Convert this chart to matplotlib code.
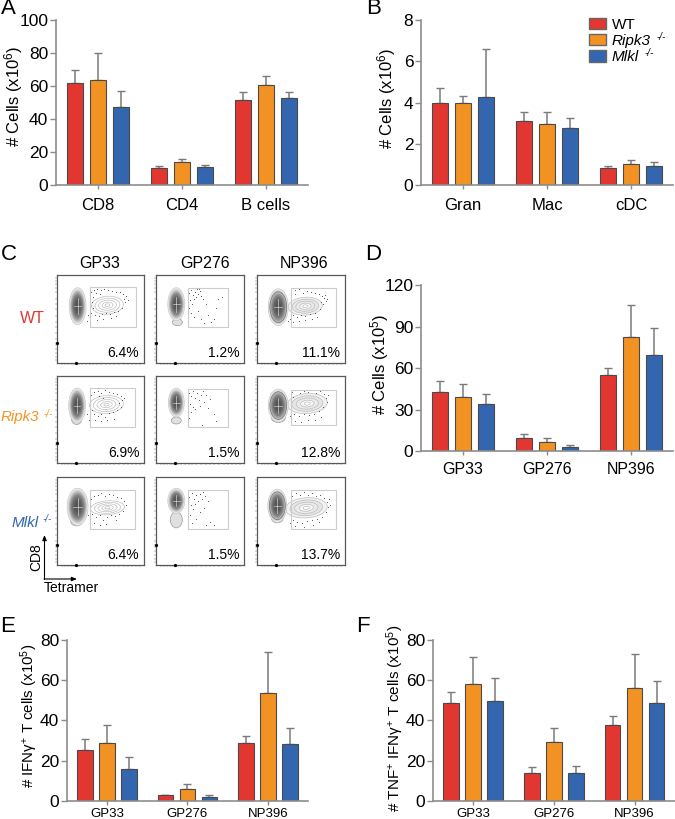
import matplotlib
matplotlib.use("Agg")
import matplotlib.pyplot as plt
from matplotlib.patches import Ellipse, Rectangle, Patch

plt.rcParams['font.family'] = ['Liberation Sans', 'DejaVu Sans']
plt.rcParams['mathtext.fontset'] = 'custom'
plt.rcParams['mathtext.rm'] = 'Liberation Sans'
plt.rcParams['mathtext.it'] = 'Liberation Sans:italic'
plt.rcParams['mathtext.bf'] = 'Liberation Sans:bold'

W, H = 675, 819

genotypes = ["WT", "Ripk3", "Mlkl"]
colors = ["#E23630", "#F29222", "#3366AE"]

# bar panels: one list per genotype, means and top of the error bar
a_groups = ["CD8", "CD4", "B cells"]
a_means = [[61.9, 10.5, 51.8], [63.9, 13.9, 60.5], [47.4, 11.3, 52.8]]
a_tops = [[69.6, 11.9, 56.3], [80.2, 16.1, 66.1], [56.9, 12.1, 56.5]]

b_groups = ["Gran", "Mac", "cDC"]
b_means = [[4.0, 3.09, 0.84], [3.96, 2.99, 1.03], [4.25, 2.76, 0.95]]
b_tops = [[4.73, 3.54, 0.92], [4.33, 3.57, 1.23], [6.62, 3.28, 1.11]]

peptides = ["GP33", "GP276", "NP396"]
d_means = [[43, 9.9, 55], [39, 6.5, 82.4], [34.2, 3.4, 69.4]]
d_tops = [[51, 12.3, 60.5], [48.9, 9.4, 105.5], [41.2, 4.8, 88.9]]

e_means = [[25, 2.7, 28.9], [28.5, 5.6, 53.4], [15.9, 1.8, 28]]
e_tops = [[30.9, 3, 32], [37.7, 8.1, 73.9], [22, 2.6, 36.3]]

f_means = [[48.5, 13.9, 37.7], [58.1, 29.2, 56.3], [49.5, 13.9, 48.5]]
f_tops = [[54.1, 16.6, 42], [71.4, 36, 73], [60.9, 17.1, 59.8]]

# flow plots, in the 88 x 88 units of a box, y going down. rows WT, Ripk3, Mlkl
flow_pct = [["6.4%", "1.2%", "11.1%"], ["6.9%", "1.5%", "12.8%"], ["6.4%", "1.5%", "13.7%"]]
flow_gate = [[(33, 12, 80, 52), (32, 13, 72, 52), (34, 13, 79, 52)],
             [(33, 12, 79, 52), (32, 13, 72, 52), (34, 14, 79, 50)],
             [(33, 13, 79, 52), (32, 13, 72, 52), (34, 13, 79, 52)]]
flow_main = [[(21, 31, 8.5, 18.5), (20, 29, 8.5, 16.5), (21, 32, 10, 18.5)],
             [(20.5, 30, 8.5, 17.5), (20, 27, 8, 14.5), (21, 30, 10, 16.5)],
             [(21, 30, 10.5, 18.5), (20, 24, 8.5, 12.5), (20, 29, 9.5, 16.5)]]
flow_tail = [[None, (21, 47, 5, 3.5), None],
             [(20, 44, 5, 5), (20, 45, 5, 3.5), (21, 42, 7, 5)],
             [(20, 44, 6, 5), (20, 43, 6, 8), (20, 41, 6, 5)]]
flow_tet = [[(51, 30, 16, 9), None, (48, 31, 17, 9)],
            [(50, 29, 17, 9), None, (50, 28, 20, 10)],
            [(51, 31, 17, 7), None, (49, 31, 21, 10)]]
flow_dots = [
    [[(34, 17), (37, 15), (40, 14), (44, 15), (48, 14), (52, 15), (56, 16), (60, 17), (64, 17), (67, 19), (70, 21),
      (68, 24), (36, 22), (35, 27), (36, 33), (34, 38), (38, 40), (42, 41), (46, 39), (50, 38), (54, 39), (58, 37),
      (62, 36), (66, 33), (69, 27), (31, 40), (30, 46), (33, 48), (40, 45), (47, 44), (55, 43), (60, 41), (72, 25),
      (39, 18), (43, 19)],
     [(33, 18), (35, 15), (37, 20), (39, 17), (41, 14), (42, 19), (44, 16), (45, 21), (46, 13), (47, 24), (38, 24),
      (34, 25), (36, 29), (33, 33), (35, 38), (38, 42), (42, 36), (45, 44), (50, 29), (52, 40), (55, 47), (60, 33),
      (62, 24), (48, 48), (58, 44), (66, 22), (40, 22), (43, 14)],
     [(34, 17), (38, 15), (42, 14), (46, 18), (50, 16), (54, 17), (58, 18), (62, 19), (65, 21), (67, 23), (69, 26),
      (66, 29), (63, 34), (58, 38), (53, 39), (48, 41), (44, 40), (40, 42), (36, 40), (33, 44), (36, 47), (42, 46),
      (48, 45), (55, 44), (60, 42), (70, 24), (68, 20), (64, 27), (31, 46), (38, 19)]],
    [[(34, 19), (37, 16), (41, 15), (45, 17), (49, 14), (53, 16), (57, 17), (61, 18), (65, 20), (66, 24), (63, 27),
      (35, 34), (37, 38), (41, 40), (45, 38), (49, 41), (53, 37), (57, 36), (61, 34), (65, 31), (32, 44), (38, 45),
      (44, 46), (51, 44), (58, 43), (30, 38), (68, 22), (42, 20), (47, 22)],
     [(33, 17), (35, 20), (37, 15), (39, 22), (41, 17), (43, 24), (45, 19), (47, 15), (48, 26), (50, 19), (34, 28),
      (37, 31), (35, 36), (39, 33), (33, 42), (44, 30), (52, 32), (58, 38), (60, 46), (46, 50), (54, 23)],
     [(35, 16), (39, 14), (43, 17), (47, 15), (51, 16), (55, 14), (59, 17), (63, 15), (67, 18), (69, 22), (70, 26),
      (66, 31), (62, 35), (57, 38), (52, 39), (47, 38), (42, 40), (37, 38), (34, 43), (38, 46), (44, 47), (51, 45),
      (58, 44), (64, 41), (71, 19), (33, 40), (36, 21)]],
    [[(34, 22), (37, 19), (41, 18), (45, 16), (49, 19), (53, 17), (57, 18), (61, 20), (65, 21), (68, 24), (70, 28),
      (35, 37), (39, 40), (43, 38), (47, 43), (51, 40), (55, 38), (59, 39), (63, 37), (67, 34), (37, 46), (43, 48),
      (50, 47), (31, 38), (60, 43)],
     [(33, 20), (36, 16), (38, 22), (40, 18), (42, 24), (44, 17), (46, 22), (47, 15), (49, 19), (35, 28), (37, 32),
      (39, 27), (34, 38), (40, 42), (36, 46), (44, 35), (50, 48), (54, 45), (58, 48), (48, 31), (52, 24)],
     [(35, 19), (39, 16), (43, 18), (47, 15), (51, 18), (55, 16), (59, 19), (63, 18), (67, 21), (70, 25), (71, 30),
      (69, 35), (65, 40), (60, 42), (55, 43), (50, 44), (45, 46), (40, 45), (36, 43), (33, 46), (38, 49), (47, 50),
      (56, 48), (73, 28), (72, 22), (62, 45)]],
]

flow_x_ticks = [5, 8, 11, 14, 16, 18, 20, 22, 25, 29, 33, 36, 40, 45, 50, 54, 58, 63, 68, 72, 76, 80, 84]
flow_y_ticks = [3, 6, 9, 13, 17, 24, 29, 34, 41, 47, 52, 58, 64, 68, 70, 74, 78, 82, 85]

col_edges = [(56.7, 144.3), (156.3, 244.3), (257.3, 345.3)]
row_edges = [(275.3, 363), (375.7, 463.3), (476.7, 565)]

main_fracs = [1, 0.92, 0.84, 0.74, 0.64, 0.52, 0.4, 0.28]
main_grays = ["0.93", "0.84", "0.72", "0.6", "0.5", "0.42", "0.37", "0.33"]
tet_fracs = [1, 0.78, 0.56, 0.34, 0.15]

fig = plt.figure(figsize=(W / 100, H / 100), dpi=100)


def px_axes(left, top, right, bottom):
    return fig.add_axes([left / W, 1 - bottom / H, (right - left) / W, (bottom - top) / H])


def px_text(x, y, s, **kw):
    kw.setdefault("ha", "center")
    kw.setdefault("va", "center")
    return fig.text(x / W, 1 - y / H, s, **kw)


def bar_panel(box, groups, means, tops, ymax, yticks, ylabel, label_xy, xsize=12, xpad=6, lsize=12):
    left, top, right, bottom = box
    ax = px_axes(left, top, right, bottom)
    unit = (right - left) / 3
    step = (22 if unit < 82 else 23) / unit
    width = 15.5 / unit
    for g in range(3):
        xs = [i + (g - 1) * step for i in range(3)]
        ups = [t - m for t, m in zip(tops[g], means[g])]
        ax.errorbar(xs, means[g], yerr=[[0, 0, 0], ups], fmt="none", ecolor="#7a7a7a",
                    elinewidth=1.1, capsize=3, capthick=1.0, zorder=1)
        ax.bar(xs, means[g], width=width, color=colors[g], edgecolor="#4a4a4a", linewidth=0.8, zorder=2)
    ax.set_xlim(-0.5, 2.5)
    ax.set_ylim(0, ymax)
    ax.set_xticks(range(3))
    ax.set_xticklabels(groups)
    ax.set_yticks(yticks)
    for s in ["top", "right"]:
        ax.spines[s].set_visible(False)
    for s in ["left", "bottom"]:
        ax.spines[s].set_color("#8c8c8c")
        ax.spines[s].set_linewidth(1.2)
    ax.tick_params(axis="y", length=4, width=1, color="#8c8c8c", labelsize=12.5, pad=1.5)
    ax.tick_params(axis="x", length=3, width=1, color="#8c8c8c", labelsize=xsize, pad=xpad)
    px_text(label_xy[0], label_xy[1], ylabel, rotation=90, fontsize=lsize)
    return ax


def flow_panel(r, c):
    ax = px_axes(col_edges[c][0], row_edges[r][0], col_edges[c][1], row_edges[r][1])
    ax.set_xlim(0, 88)
    ax.set_ylim(88, 0)
    x0, y0, x1, y1 = flow_gate[r][c]

    tet = flow_tet[r][c]
    if tet:
        for k, f in enumerate(tet_fracs):
            fill = "white"
            if c == 2:
                fill = ["0.95", "0.9", "0.92", "0.97", "white"][k]
            ax.add_patch(Ellipse((tet[0], tet[1]), 2 * tet[2] * f, 2 * tet[3] * f, angle=-4,
                                 facecolor=fill, edgecolor="0.72", linewidth=0.45, zorder=2))

    tail = flow_tail[r][c]
    if tail:
        ax.add_patch(Ellipse(tail[:2], 2 * tail[2], 2 * tail[3], facecolor="0.88", edgecolor="0.6",
                             linewidth=0.5, zorder=3))

    m = flow_main[r][c]
    for k, (f, g) in enumerate(zip(main_fracs, main_grays)):
        edge = "0.78" if k == 0 else "none"
        if c == 2 and k == 2:
            edge = "0.45"
        ax.add_patch(Ellipse(m[:2], 2 * m[2] * f, 2 * m[3] * f, facecolor=g, edgecolor=edge,
                             linewidth=0.5, zorder=4))
    ax.plot([m[0] - m[2] * 0.4, m[0] + m[2] * 0.4], [m[1], m[1]], color="white", lw=0.5, alpha=0.7, zorder=5)
    ax.plot([m[0], m[0]], [m[1] - m[3] * 0.45, m[1] + m[3] * 0.45], color="white", lw=0.5, alpha=0.7, zorder=5)

    dots = flow_dots[r][c]
    ax.scatter([d[0] for d in dots], [d[1] for d in dots], s=0.45, color="0.3", linewidths=0, zorder=3)
    ax.add_patch(Rectangle((x0, y0), x1 - x0, y1 - y0, fill=False, edgecolor="0.8", linewidth=0.8, zorder=6))

    ax.set_xticks(flow_x_ticks)
    ax.set_yticks(flow_y_ticks)
    ax.set_xticklabels([])
    ax.set_yticklabels([])
    ax.tick_params(length=1.5, width=0.35, color="0.45", pad=0)
    ax.plot([19], [88], marker="o", ms=1.3, color="black", clip_on=False, zorder=7)
    ax.plot([0], [68], marker="o", ms=1.3, color="black", clip_on=False, zorder=7)
    for s in ax.spines.values():
        s.set_color("0.35")
        s.set_linewidth(0.9)
    ax.text(83, 78, flow_pct[r][c], ha="right", va="center", fontsize=10, zorder=8)


bar_panel((56, 20, 308, 185.3), a_groups, a_means, a_tops, 100, [0, 20, 40, 60, 80, 100],
          r"# Cells (x10$^{6}$)", (14, 96))
bar_panel((421, 20, 673, 185.3), b_groups, b_means, b_tops, 8, [0, 2, 4, 6, 8],
          r"# Cells (x10$^{6}$)", (387, 98))
bar_panel((421, 285.3, 673, 451.3), peptides, d_means, d_tops, 120, [0, 30, 60, 90, 120],
          r"# Cells (x10$^{5}$)", (380, 364), xsize=11.5, xpad=4.5)
bar_panel((66.7, 640, 308, 800.7), peptides, e_means, e_tops, 80, [0, 20, 40, 60, 80],
          r"# IFN$\mathrm{\gamma}^{+}$ T cells (x10$^{5}$)", (29, 716), xsize=9.5, xpad=2.5, lsize=10.8)
bar_panel((432.7, 640, 675, 800.7), peptides, f_means, f_tops, 80, [0, 20, 40, 60, 80],
          r"# TNF$^{+}$ IFN$\mathrm{\gamma}^{+}$ T cells (x10$^{5}$)", (395, 718), xsize=9.5, xpad=2.5, lsize=11)

for r in range(3):
    for c in range(3):
        flow_panel(r, c)

for x, name in zip([100, 205, 304], peptides):
    px_text(x, 263, name, fontsize=11.5)

px_text(45, 319, genotypes[0], color=colors[0], fontsize=11.5, ha="right")
px_text(39, 417, genotypes[1], color=colors[1], fontsize=10.8, ha="right", style="italic")
px_text(39, 523, genotypes[2], color=colors[2], fontsize=11, ha="right", style="italic")
px_text(48, 414, "-/-", color=colors[1], fontsize=7, style="italic")
px_text(47, 519, "-/-", color=colors[2], fontsize=7, style="italic")

# CD8 / Tetramer axes key
key = fig.add_axes([0, 0, 1, 1], facecolor="none")
key.set_xlim(0, W)
key.set_ylim(H, 0)
key.axis("off")
key.annotate("", xy=(44.5, 535), xytext=(44.5, 579.5),
             arrowprops=dict(arrowstyle="-|>,head_width=0.12,head_length=0.3", lw=0.8, color="black", shrinkA=0, shrinkB=0))
key.annotate("", xy=(77, 579), xytext=(44, 579),
             arrowprops=dict(arrowstyle="-|>,head_width=0.12,head_length=0.3", lw=0.8, color="black", shrinkA=0, shrinkB=0))
px_text(36, 557, "CD8", rotation=90, fontsize=10)
px_text(71, 588, "Tetramer", fontsize=10)

for x, y, s in [(8, 9, "A"), (373.5, 9, "B"), (9, 255, "C"), (373, 254, "D"), (8, 627, "E"), (363, 626, "F")]:
    px_text(x, y, s, fontsize=16)

handles = [Patch(facecolor=c, edgecolor="#666666", linewidth=1) for c in colors]
leg = fig.legend(handles, genotypes, loc="upper left", bbox_to_anchor=(584 / W, 1 - 13 / H), frameon=False, fontsize=11,
                 handlelength=1.11, handleheight=0.8, handletextpad=0.4, labelspacing=0.13, borderpad=0.3,
                 borderaxespad=0)
leg.get_texts()[1].set_style("italic")
leg.get_texts()[2].set_style("italic")
px_text(661, 37, "-/-", fontsize=7, style="italic")
px_text(649, 53, "-/-", fontsize=7, style="italic")

fig.savefig("out.png", dpi=100)
